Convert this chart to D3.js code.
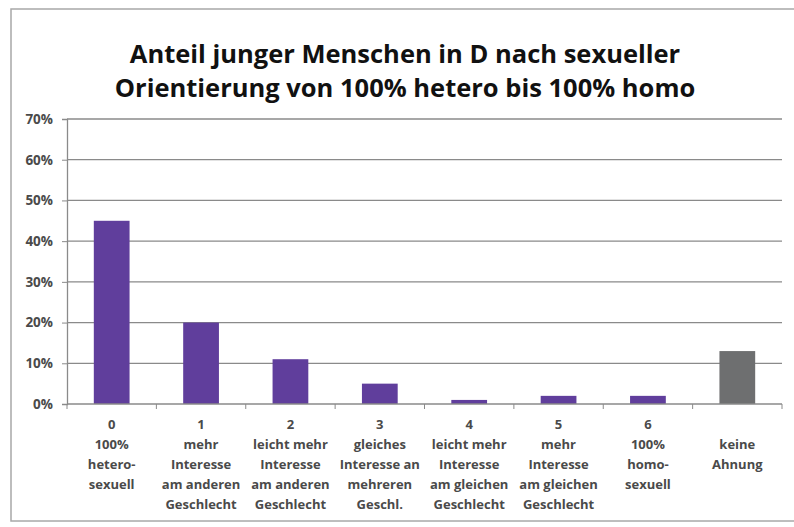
<!DOCTYPE html>
<html>
<head>
<meta charset="utf-8">
<script src="https://cdn.jsdelivr.net/npm/d3@7"></script>
<style>
  body { margin: 0; background: #fff; }
  svg { display: block; }
  .tick-label { font-family: "Open Sans", "DejaVu Sans", sans-serif; font-weight: bold; fill: #4a4a4a; }
</style>
</head>
<body>
<div id="chart"></div>
<script>
// categories (one label line per array entry)
let categories = [
  ['0', '100%', 'hetero-', 'sexuell'],
  ['1', 'mehr', 'Interesse', 'am anderen', 'Geschlecht'],
  ['2', 'leicht mehr', 'Interesse', 'am anderen', 'Geschlecht'],
  ['3', 'gleiches', 'Interesse an', 'mehreren', 'Geschl.'],
  ['4', 'leicht mehr', 'Interesse', 'am gleichen', 'Geschlecht'],
  ['5', 'mehr', 'Interesse', 'am gleichen', 'Geschlecht'],
  ['6', '100%', 'homo-', 'sexuell'],
  ['', 'keine', 'Ahnung']
]
let values = [0.45, 0.20, 0.11, 0.05, 0.01, 0.02, 0.02, 0.13]
let yTicks = [0, 0.1, 0.2, 0.3, 0.4, 0.5, 0.6, 0.7]
let titleLines = ['Anteil junger Menschen in D nach sexueller', 'Orientierung von 100% hetero bis 100% homo']

let width = 794,
  height = 527

let svg = d3.select('#chart')
  .append('svg')
  .attr('width', width)
  .attr('height', height)

// chart frame
svg.append('rect')
  .attr('x', 11).attr('y', 9)
  .attr('width', 800).attr('height', 512)
  .attr('fill', '#fff')
  .attr('stroke', '#a8a8a8')
  .attr('stroke-width', 1.5)

let margin = { left: 67, right: 12, top: 119, bottom: 123 }

let x = d3.scaleBand()
  .domain(d3.range(categories.length))
  .range([margin.left, width - margin.right])
  .paddingInner(0.6)
  .paddingOuter(0.3)

let y = d3.scaleLinear()
  .domain([0, 0.7])
  .range([height - margin.bottom, margin.top])

// gridlines
svg.append('g')
  .selectAll('line')
  .data(yTicks.slice(1))
  .enter().append('line')
  .attr('x1', margin.left).attr('x2', width - margin.right)
  .attr('y1', d => y(d)).attr('y2', d => y(d))
  .attr('stroke', '#8a8a8a')
  .attr('stroke-width', 1.3)

// bars
svg.append('g')
  .selectAll('rect')
  .data(values)
  .enter().append('rect')
  .attr('x', (d, i) => x(i))
  .attr('y', d => y(d))
  .attr('width', x.bandwidth())
  .attr('height', d => y(0) - y(d))
  .attr('fill', (d, i) => i == values.length - 1 ? '#6e6f70' : '#603e9c')

// y axis
let yAxis = svg.append('g')
  .attr('transform', 'translate(' + margin.left + ',0)')
  .call(d3.axisLeft(y).tickValues(yTicks).tickFormat(d3.format('.0%')).tickSize(5))
yAxis.select('.domain').attr('stroke', '#8a8a8a').attr('stroke-width', 1.3)
yAxis.selectAll('.tick line').attr('stroke', '#8a8a8a')
yAxis.selectAll('.tick text')
  .attr('class', 'tick-label')
  .attr('x', -14)
  .style('font-size', '13.5px')

// x axis line with ticks at category boundaries
let x0 = margin.left
let boundaries = d3.range(categories.length + 1).map(i => x0 + i * (width - margin.right - x0) / categories.length)
svg.append('line')
  .attr('x1', margin.left).attr('x2', width - margin.right)
  .attr('y1', y(0)).attr('y2', y(0))
  .attr('stroke', '#8a8a8a').attr('stroke-width', 1.3)
svg.append('g')
  .selectAll('line')
  .data(boundaries)
  .enter().append('line')
  .attr('x1', d => d).attr('x2', d => d)
  .attr('y1', y(0)).attr('y2', y(0) + 5)
  .attr('stroke', '#8a8a8a')

// category labels
let labels = svg.append('g')
  .selectAll('text')
  .data(categories)
  .enter().append('text')
  .attr('class', 'tick-label')
  .attr('text-anchor', 'middle')
  .style('font-size', '13px')
  .attr('y', y(0) + 25)

labels.selectAll('tspan')
  .data((d, i) => d.map(line => ({ line: line, i: i })))
  .enter().append('tspan')
  .attr('x', d => x(d.i) + x.bandwidth() / 2)
  .attr('dy', (d, j) => j == 0 ? 0 : 20)
  .text(d => d.line)

// title
svg.append('g')
  .selectAll('text')
  .data(titleLines)
  .enter().append('text')
  .attr('x', 405)
  .attr('y', (d, i) => 63 + i * 34)
  .attr('text-anchor', 'middle')
  .style('font-family', '"Open Sans", "DejaVu Sans", sans-serif')
  .style('font-weight', 'bold')
  .style('font-size', '25.5px')
  .attr('fill', '#111')
  .text(d => d)
</script>
</body>
</html>
